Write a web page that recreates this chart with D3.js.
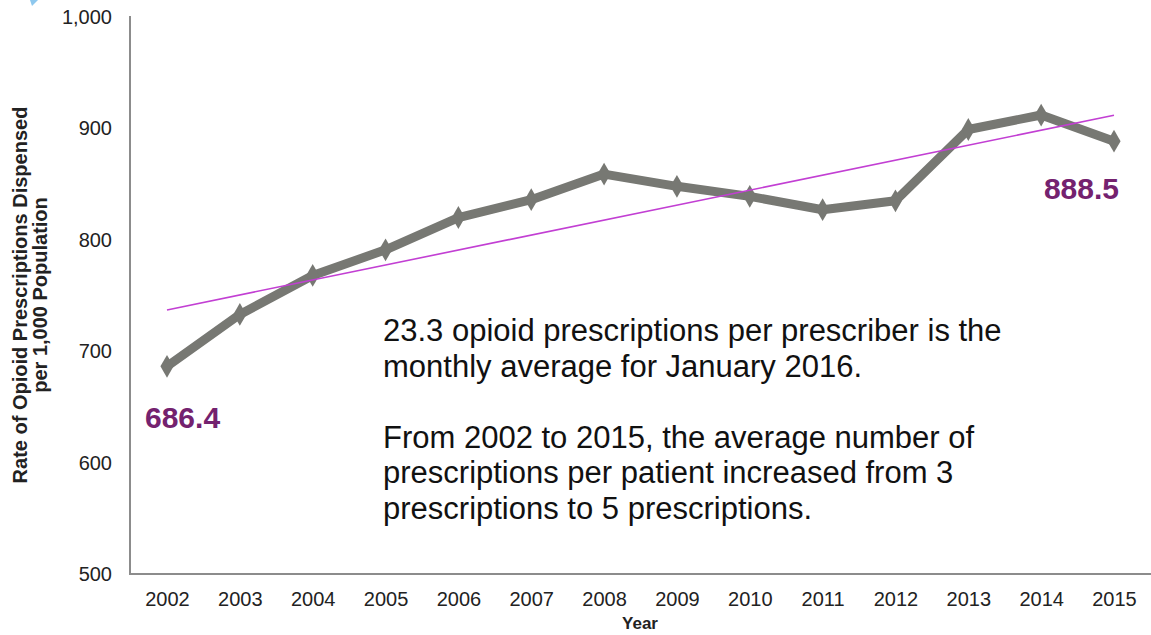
<!DOCTYPE html>
<html>
<head>
<meta charset="utf-8">
<script src="https://cdn.jsdelivr.net/npm/d3@7"></script>
<style>
  body { margin: 0; background: #fff; }
  text { font-family: "Liberation Sans", Arial, sans-serif; }
</style>
</head>
<body>
<div id="chart"></div>
<script>
// data
var years = [2002, 2003, 2004, 2005, 2006, 2007, 2008, 2009, 2010, 2011, 2012, 2013, 2014, 2015];
var rates = [686.4, 733, 768, 791, 820, 836, 859, 848, 839, 827, 835, 899, 912, 888.5];
var yTicks = [500, 600, 700, 800, 900, 1000];
var noteLines = [
    "23.3 opioid prescriptions per prescriber is the",
    "monthly average for January 2016.",
    "",
    "From 2002 to 2015, the average number of",
    "prescriptions per patient increased from 3",
    "prescriptions to 5 prescriptions."
];

var svgWidth = 1151;
var svgHeight = 635;

var svg = d3.select("#chart")
    .append("svg")
    .attr("width", svgWidth)
    .attr("height", svgHeight);

// little blue corner fragment
svg.append("path")
    .attr("d", "M30,0 L38,0 L32,6 Z")
    .attr("fill", "#8ec8ee");

var chartGroup = svg.append("g");

var xScale = d3.scalePoint()
    .domain(years)
    .range([167, 1114]);

var yScale = d3.scaleLinear()
    .domain([500, 1000])
    .range([574, 17]);

// axes
var yAxis = d3.axisLeft(yScale).tickValues(yTicks).tickSize(0).tickPadding(18)
    .tickFormat(d3.format(","));
var xAxis = d3.axisBottom(xScale).tickSize(0).tickPadding(18);

var yG = chartGroup.append("g")
    .attr("transform", "translate(130,0)")
    .call(yAxis);
var xG = chartGroup.append("g")
    .attr("transform", "translate(0,574)")
    .call(xAxis);

yG.select(".domain").remove();
xG.select(".domain").remove();
chartGroup.append("line")
    .attr("x1", 130).attr("x2", 130).attr("y1", 16).attr("y2", 575)
    .attr("stroke", "#8c8c8c").attr("stroke-width", 2);
chartGroup.append("line")
    .attr("x1", 129).attr("x2", 1151).attr("y1", 574).attr("y2", 574)
    .attr("stroke", "#8c8c8c").attr("stroke-width", 2);

yG.attr("font-size", 20).attr("font-family", "Liberation Sans, Arial, sans-serif");
xG.attr("font-size", 20).attr("font-family", "Liberation Sans, Arial, sans-serif");
yG.selectAll("text").attr("fill", "#222");
xG.selectAll("text").attr("fill", "#222");

// linear trend (least squares on the series)
var n = years.length;
var mx = d3.mean(years), my = d3.mean(rates);
var sxy = d3.sum(years, (d, i) => (d - mx) * (rates[i] - my));
var sxx = d3.sum(years, d => (d - mx) * (d - mx));
var slope = sxy / sxx;
var intercept = my - slope * mx;
var trend = [years[0], years[n - 1]].map(y => ({ year: y, value: intercept + slope * y }));

// main line
var line = d3.line()
    .x((d, i) => xScale(years[i]))
    .y(d => yScale(d));

chartGroup.append("path")
    .datum(rates)
    .attr("d", line)
    .attr("fill", "none")
    .attr("stroke", "#777873")
    .attr("stroke-width", 9)
    .attr("stroke-linejoin", "round");

chartGroup.selectAll(".marker")
    .data(rates)
    .enter()
    .append("path")
    .attr("class", "marker")
    .attr("d", d3.symbol().type(d3.symbolDiamond).size(150))
    .attr("transform", (d, i) => `translate(${xScale(years[i])},${yScale(d)})`)
    .attr("fill", "#777873");

// trend line on top
chartGroup.append("path")
    .datum(trend)
    .attr("d", d3.line().x(d => xScale(d.year)).y(d => yScale(d.value)))
    .attr("fill", "none")
    .attr("stroke", "#c23fd3")
    .attr("stroke-width", 1.6);

// end labels
chartGroup.append("text")
    .attr("x", 145).attr("y", 428)
    .attr("font-size", 30).attr("font-weight", "bold")
    .attr("fill", "#74226f")
    .text(d3.format(".1f")(rates[0]));
chartGroup.append("text")
    .attr("x", 1119).attr("y", 199)
    .attr("text-anchor", "end")
    .attr("font-size", 30).attr("font-weight", "bold")
    .attr("fill", "#74226f")
    .text(d3.format(".1f")(rates[n - 1]));

// annotation
var note = chartGroup.append("text")
    .attr("x", 383).attr("y", 341)
    .attr("font-size", 31).attr("fill", "#111");
note.selectAll("tspan")
    .data(noteLines)
    .enter()
    .append("tspan")
    .attr("x", 383)
    .attr("y", (d, i) => 341 + i * 35.5)
    .text(d => d);

// axis titles
svg.append("text")
    .attr("x", 640).attr("y", 629)
    .attr("text-anchor", "middle")
    .attr("font-size", 17).attr("font-weight", "bold")
    .attr("fill", "#222")
    .text("Year");

var yTitle = svg.append("text")
    .attr("transform", "translate(0,295) rotate(-90)")
    .attr("text-anchor", "middle")
    .attr("font-size", 20).attr("font-weight", "bold")
    .attr("fill", "#222");
yTitle.append("tspan").attr("x", 0).attr("y", 27).text("Rate of Opioid Prescriptions Dispensed");
yTitle.append("tspan").attr("x", 0).attr("y", 47).text("per 1,000 Population");
</script>
</body>
</html>
